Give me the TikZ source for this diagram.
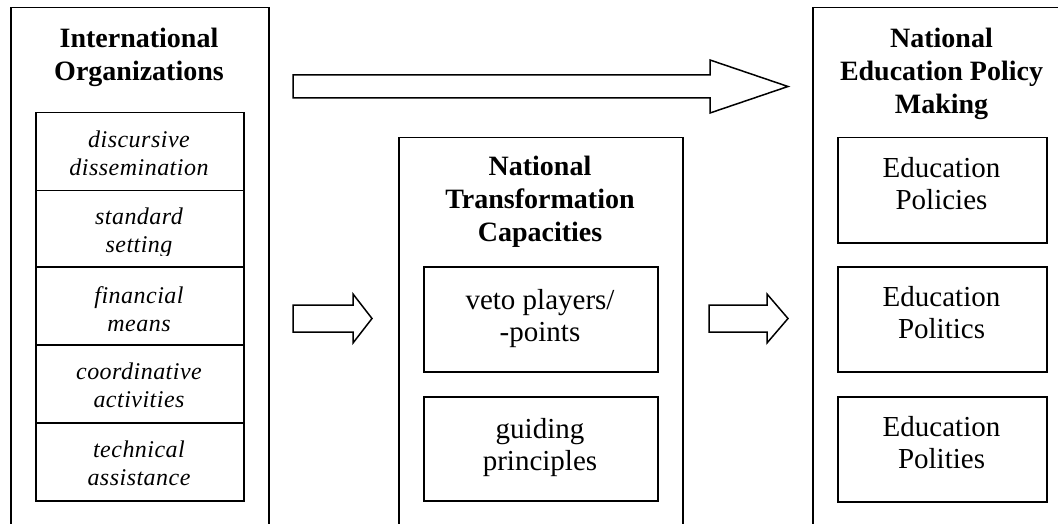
\documentclass[tikz,border=0pt]{standalone}
\usepackage{fontspec}
\setmainfont{Liberation Serif}
\begin{document}
\begin{tikzpicture}[x=1pt,y=-1pt,
  frame/.style={draw, line width=1.5pt, inner sep=0pt, anchor=north west},
  box/.style={draw, line width=1.5pt, inner sep=0pt, anchor=north west},
  ttl/.style={font=\fontsize{28}{33}\selectfont\bfseries, align=center, inner sep=0pt, anchor=north},
  reg/.style={font=\fontsize{29}{32}\selectfont, align=center, inner sep=0pt, anchor=north},
  itl/.style={font=\fontsize{24}{28}\selectfont\itshape\addfontfeature{LetterSpace=2}, align=center, inner sep=0pt, anchor=north},
  blk/.style={draw, line width=1.5pt, fill=white, line join=miter}
]
\useasboundingbox (0,0) rectangle (1058,524);
\clip (0,0) rectangle (1058,524);

% outer frames (cut off at the bottom)
\node[frame, minimum width=258pt, minimum height=600pt] (io) at (10,7) {};
\node[frame, minimum width=284pt, minimum height=600pt] (ntc) at (398,137) {};
\node[frame, minimum width=400pt, minimum height=600pt] (nep) at (812,7) {};

% titles
\node[ttl] (iot) at (139,28) {International\\Organizations};
\node[ttl] (ntct) at (540,156) {National\\Transformation\\Capacities};
\node[ttl] (nept) at (941.5,28) {National\\Education Policy\\Making};

% left inner boxes
\node[box, minimum width=208pt, minimum height=78pt] (b1) at (35,112) {};
\node[box, minimum width=208pt, minimum height=76pt] (b2) at (35,190) {};
\node[box, minimum width=208pt, minimum height=78pt] (b3) at (35,266) {};
\node[box, minimum width=208pt, minimum height=78pt] (b4) at (35,344) {};
\node[box, minimum width=208pt, minimum height=78pt] (b5) at (35,422) {};

\node[itl] (t1) at (139,131) {discursive\\dissemination};
\begin{scope}
  \clip (36,191) rectangle (242,255);
  \node[itl] (t2) at (139,208) {standard\\setting};
\end{scope}
\node[itl] (t3) at (139,286) {financial\\means};
\node[itl] (t4) at (139,363) {coordinative\\activities};
\node[itl] (t5) at (139,441) {technical\\assistance};

% middle inner boxes
\node[box, minimum width=234pt, minimum height=105pt] (m1) at (423,266) {};
\node[box, minimum width=234pt, minimum height=104pt] (m2) at (423,396) {};
\node[reg] (mt1) at (540,289) {veto players/\\-points};
\node[reg] (mt2) at (540,418) {guiding\\principles};

% right inner boxes
\node[box, minimum width=209pt, minimum height=105pt] (r1) at (837,137) {};
\node[box, minimum width=209pt, minimum height=105pt] (r2) at (837,266) {};
\node[box, minimum width=209pt, minimum height=105pt] (r3) at (837,396) {};
\node[reg] (rt1) at (941.5,157) {Education\\Policies};
\node[reg] (rt2) at (941.5,286) {Education\\Politics};
\node[reg] (rt3) at (941.5,416) {Education\\Polities};

% block arrows
\draw[blk] (293,75) -- (710,75) -- (710,60) -- (788,86.5) -- (710,113) -- (710,98) -- (293,98) -- cycle;
\draw[blk] (293,305) -- (353,305) -- (353,294) -- (372,318.5) -- (353,343) -- (353,332) -- (293,332) -- cycle;
\draw[blk] (709,305) -- (767,305) -- (767,294) -- (788,318.5) -- (767,343) -- (767,332) -- (709,332) -- cycle;
\end{tikzpicture}
\end{document}
